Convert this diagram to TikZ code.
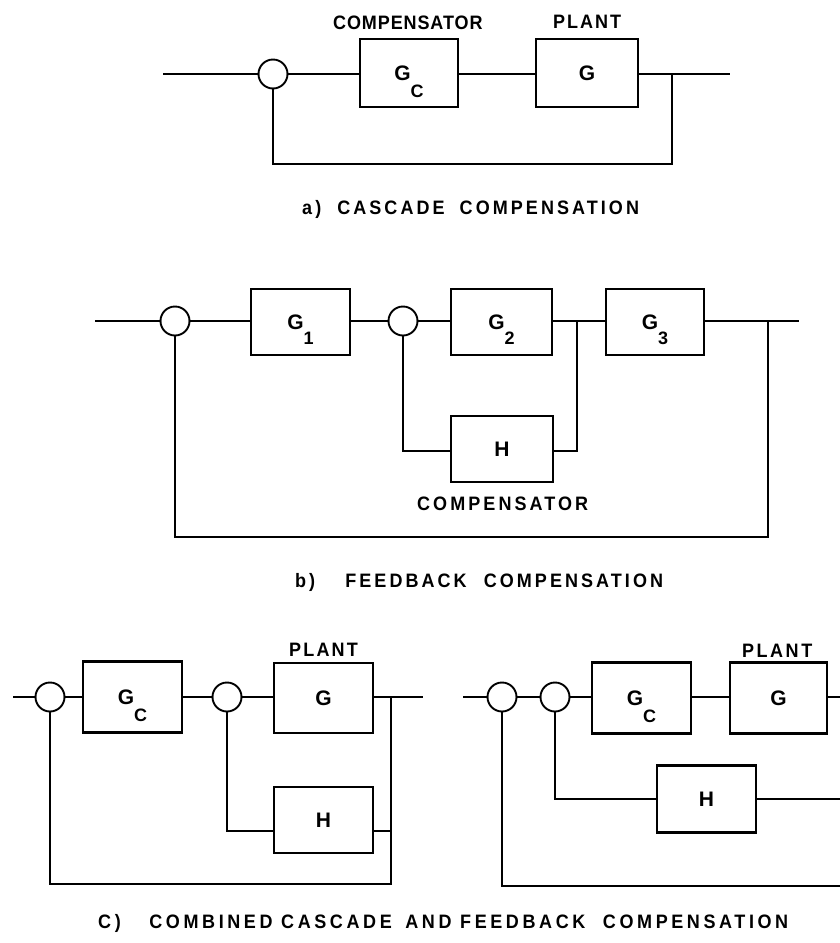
\documentclass[tikz,border=0pt]{standalone}
\usepackage{graphicx}
\usepackage{fontspec}
\setmainfont{Liberation Sans}
\newfontfamily\lblfam{Liberation Sans}
\newcommand\capfont{\lblfam\bfseries\fontsize{18}{20}\selectfont}
\newcommand\boxfont{\lblfam\bfseries\fontsize{21}{23}\selectfont}
\newcommand\Gsub[2]{G\smash{\raisebox{-#2}{\fontsize{18}{18}\selectfont #1}}}
\newcommand\ls[1]{\addfontfeature{LetterSpace=#1}}
\newcommand\tall[1]{\scalebox{1}[1.08]{#1}}
\begin{document}
\begin{tikzpicture}[x=1pt,y=-1pt,
  wire/.style={line width=2.1pt},
  blk/.style={draw, line width=2.1pt, inner sep=0pt, font=\boxfont},
  sumj/.style={draw, circle, line width=1.9pt, minimum size=29pt, inner sep=0pt},
  lbl/.style={font=\capfont, inner sep=0pt, anchor=base west}]
\fill[white] (0,0) rectangle (840,943);
\useasboundingbox (0,0) rectangle (840,943);

% ---------------- a) cascade compensation
\coordinate (ina) at (163,74);
\node[sumj] (sa) at (273,74) {};
\node[blk, minimum width=98pt, minimum height=68pt] (gca) at (409,73) {\Gsub{C}{17pt}};
\node[blk, minimum width=102pt, minimum height=68pt] (ga) at (587,73) {G};
\coordinate (bra) at (672,74);
\coordinate (outa) at (730,74);
\coordinate (fba) at (672,164);
\draw[wire] (ina) -- (sa) -- (gca.west |- sa) (gca.east |- sa) -- (ga.west |- sa) (ga.east |- sa) -- (outa);
\draw[wire] (bra) -- (fba) -| (sa.south);
\node[lbl] (compa) at (333,29) {\tall{\ls{5}COMPENSATOR}};
\node[lbl] (planta) at (553,28) {\tall{\ls{11}PLANT}};
\node[lbl] (capa) at (302,214) {\tall{\ls{17}a)\hspace{8pt} CASCADE\hspace{7pt} COMPENSATION}};

% ---------------- b) feedback compensation
\coordinate (inb) at (95,321);
\node[sumj] (sb1) at (175,321) {};
\node[blk, minimum width=99pt, minimum height=66pt] (g1) at (300.5,322) {\Gsub{1}{15pt}};
\node[sumj] (sb2) at (403,321) {};
\node[blk, minimum width=101pt, minimum height=66pt] (g2) at (501.5,322) {\Gsub{2}{15pt}};
\coordinate (brb1) at (577,321);
\node[blk, minimum width=98pt, minimum height=66pt] (g3) at (655,322) {\Gsub{3}{15pt}};
\coordinate (brb2) at (768,321);
\coordinate (outb) at (799,321);
\coordinate (fbb) at (768,537);
\node[blk, minimum width=102pt, minimum height=66pt] (hb) at (502,449) {H};
\draw[wire] (inb) -- (sb1) -- (g1.west |- sb1) (g1.east |- sb1) -- (sb2) -- (g2.west |- sb2)
  (g2.east |- sb2) -- (g3.west |- sb2) (g3.east |- sb2) -- (outb);
\draw[wire] (sb2.south) |- ([yshift=-2pt]hb.west);
\draw[wire] ([yshift=-2pt]hb.east) -| (brb1);
\draw[wire] (brb2) -- (fbb) -| (sb1.south);
\node[lbl] (compb) at (417,510) {\tall{\ls{17}COMPENSATOR}};
\node[lbl] (capb) at (295,587) {\tall{\ls{17}b)\hspace{22pt} FEEDBACK\hspace{9pt} COMPENSATION}};

% ---------------- c) left
\coordinate (incl) at (13,697);
\node[sumj] (scl1) at (50,697) {};
\node[blk, minimum width=99pt, minimum height=71pt] (gccl) at (132.5,697) {\Gsub{C}{17pt}};
\node[sumj] (scl2) at (227,697) {};
\node[blk, minimum width=99pt, minimum height=70pt] (gcl) at (323.5,698) {G};
\coordinate (brcl) at (391,697);
\coordinate (outcl) at (423,697);
\coordinate (fbcl) at (391,884);
\node[blk, minimum width=99pt, minimum height=66pt] (hcl) at (323.5,820) {H};
\coordinate (hcli) at ([yshift=-11pt]hcl.west);
\coordinate (hclo) at ([yshift=-11pt]hcl.east);
\draw[wire] (incl) -- (scl1) -- (gccl.west |- scl1) (gccl.east |- scl1) -- (scl2) -- (gcl.west |- scl2) (gcl.east |- scl2) -- (outcl);
\draw[wire] (scl2.south) |- (hcli);
\draw[wire] (hclo) -- (hclo -| brcl);
\draw[wire] (brcl) -- (fbcl) -| (scl1.south);
\node[lbl] (plantcl) at (289,656) {\tall{\ls{12}PLANT}};

% ---------------- c) right
\coordinate (incr) at (463,697);
\node[sumj] (scr1) at (502,697) {};
\node[sumj] (scr2) at (555,697) {};
\node[blk, minimum width=99pt, minimum height=71pt] (gccr) at (641.5,698) {\Gsub{C}{17pt}};
\node[blk, minimum width=97pt, minimum height=71pt] (gcr) at (778.5,698) {G};
\coordinate (outcr) at (840,697);
\coordinate (fbcr) at (840,886);
\node[blk, minimum width=99pt, minimum height=67pt] (hcr) at (706.5,799) {H};
\draw[wire] (incr) -- (scr1) -- (scr2) -- (gccr.west |- scr2) (gccr.east |- scr2) -- (gcr.west |- scr2) (gcr.east |- scr2) -- (outcr);
\draw[wire] (scr2.south) |- (hcr.west);
\draw[wire] (hcr.east) -- (hcr.east -| outcr);
\draw[wire] (scr1.south) |- (fbcr);
\node[lbl] (plantcr) at (742,657) {\tall{\ls{14}PLANT}};

\node[lbl] (capc) at (98,928) {\tall{\ls{20}C)\hspace{20pt} COMBINED CASCADE\hspace{5pt} AND FEEDBACK\hspace{9pt} COMPENSATION}};
\end{tikzpicture}
\end{document}
